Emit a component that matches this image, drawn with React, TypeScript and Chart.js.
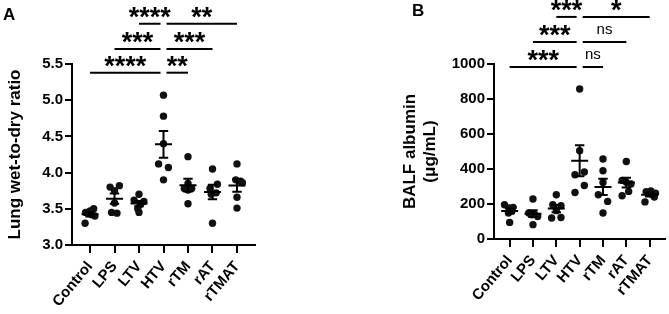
import React, { useEffect, useRef } from 'react';
import { Chart, registerables } from 'chart.js';

Chart.register(...registerables);

// ---------- data ----------
const categories = ['Control', 'LPS', 'LTV', 'HTV', 'rTM', 'rAT', 'rTMAT'];

// Panel A: lung wet-to-dry ratio, one array per group
const wetDryValues = [
  [3.30, 3.45, 3.47, 3.50, 3.42, 3.40],
  [3.80, 3.82, 3.75, 3.45, 3.44, 3.58],
  [3.70, 3.62, 3.60, 3.56, 3.50, 3.45],
  [5.07, 4.78, 4.40, 4.12, 4.07, 3.90],
  [4.22, 3.85, 3.78, 3.78, 3.76, 3.57],
  [4.05, 3.84, 3.78, 3.72, 3.70, 3.30],
  [4.12, 3.90, 3.88, 3.86, 3.66, 3.51],
];
// horizontal spread of each dot inside its group (fraction of a category)
const wetDryJitter = [
  [-0.2, -0.18, 0, 0.15, 0.05, 0.2],
  [-0.18, 0.2, 0, -0.12, 0.1, 0],
  [0, -0.2, 0.2, 0.05, -0.05, 0],
  [0, 0, 0, -0.2, 0.2, 0],
  [0, 0, -0.15, 0.15, 0, 0],
  [0, 0.2, -0.1, 0.15, -0.05, 0],
  [0, -0.05, 0.15, 0.22, 0, 0],
];
const wetDryTicks = [3.0, 3.5, 4.0, 4.5, 5.0, 5.5];

// Panel B: BALF albumin (µg/mL)
const albuminValues = [
  [196, 181, 177, 160, 149, 95],
  [229, 149, 143, 138, 129, 82],
  [253, 196, 190, 162, 123, 120],
  [857, 505, 383, 367, 306, 266],
  [457, 390, 323, 253, 215, 149],
  [443, 335, 325, 314, 272, 247],
  [275, 270, 262, 255, 240, 212],
];
const albuminJitter = [
  [-0.22, 0.15, 0, 0.1, -0.05, 0],
  [0, -0.18, 0.05, -0.05, 0.2, 0],
  [0, -0.15, 0.2, 0, 0.2, -0.2],
  [0, 0, 0.2, -0.2, 0.2, -0.2],
  [0, 0, 0, -0.2, 0.2, 0],
  [0, -0.18, 0, 0.2, 0.1, -0.18],
  [0.05, -0.15, 0.25, 0.1, 0.2, -0.2],
];
const albuminTicks = [0, 200, 400, 600, 800, 1000];

// significance brackets: [fromGroup, toGroup, level (axis units), label]
const wetDryBrackets: [number, number, number, string][] = [
  [0, 3, 5.38, '****'],
  [3, 4, 5.38, '**'],
  [1, 3, 5.707, '***'],
  [3, 5, 5.707, '***'],
  [2, 3, 6.056, '****'],
  [3, 6, 6.056, '**'],
];
const albuminBrackets: [number, number, number, string][] = [
  [0, 3, 983, '***'],
  [3, 4, 983, 'ns'],
  [1, 3, 1126, '***'],
  [3, 5, 1126, 'ns'],
  [2, 3, 1269, '***'],
  [3, 6, 1269, '*'],
];

// ---------- helpers ----------
const FONT = "'Liberation Sans', Arial, Helvetica, sans-serif";
const HUB = categories.indexOf('HTV');

function meanOf(a: number[]) {
  return a.reduce((s, v) => s + v, 0) / a.length;
}
function semOf(a: number[]) {
  const m = meanOf(a);
  const v = a.reduce((s, x) => s + (x - m) * (x - m), 0) / (a.length - 1);
  return Math.sqrt(v) / Math.sqrt(a.length);
}

interface PanelCfg {
  letter: string;
  letterX: number;
  letterY: number;
  values: number[][];
  jitter: number[][];
  ticks: number[];
  tickFmt: (v: number) => string;
  brackets: [number, number, number, string][];
  title: string | string[];
  padLeft: number;
  yWidth: number;
  padRight: number;
  xHeight: number;
  xRange: number;
}

function buildChart(canvas: HTMLCanvasElement, cfg: PanelCfg) {
  const points = cfg.values.flatMap((arr, i) =>
    arr.map((v, j) => ({ x: i + cfg.jitter[i][j], y: v }))
  );

  const errorBars = {
    id: 'errorBars',
    afterDatasetsDraw(chart: any) {
      const { ctx, scales } = chart;
      const xs = scales.x;
      const ys = scales.y;
      ctx.save();
      ctx.strokeStyle = '#000';
      ctx.lineWidth = 2;
      ctx.lineCap = 'butt';
      cfg.values.forEach((arr, i) => {
        const m = meanOf(arr);
        const s = semOf(arr);
        const cx = xs.getPixelForValue(i);
        const ym = ys.getPixelForValue(m);
        const yt = ys.getPixelForValue(m + s);
        const yb = ys.getPixelForValue(m - s);
        ctx.beginPath();
        ctx.moveTo(cx - 8.5, ym);
        ctx.lineTo(cx + 8.5, ym);
        ctx.moveTo(cx, yt);
        ctx.lineTo(cx, yb);
        ctx.moveTo(cx - 4.7, yt);
        ctx.lineTo(cx + 4.7, yt);
        ctx.moveTo(cx - 4.7, yb);
        ctx.lineTo(cx + 4.7, yb);
        ctx.stroke();
      });
      ctx.restore();
    },
  };

  const annotations = {
    id: 'annotations',
    afterDraw(chart: any) {
      const { ctx, scales } = chart;
      const xs = scales.x;
      const ys = scales.y;
      ctx.save();
      ctx.strokeStyle = '#000';
      ctx.fillStyle = '#000';
      ctx.lineWidth = 2;
      cfg.brackets.forEach(([from, to, level, label]) => {
        const x1 = xs.getPixelForValue(from) + (from === HUB ? 3 : 0);
        const x2 = xs.getPixelForValue(to) - (to === HUB ? 3 : 0);
        const y = ys.getPixelForValue(level);
        ctx.beginPath();
        ctx.moveTo(x1, y);
        ctx.lineTo(x2, y);
        ctx.stroke();
        const isStar = label.indexOf('*') >= 0;
        ctx.font = isStar ? `bold 27px ${FONT}` : `15px ${FONT}`;
        ctx.textAlign = 'center';
        ctx.textBaseline = 'alphabetic';
        const mt = ctx.measureText(label);
        const asc = mt.actualBoundingBoxAscent;
        const desc = mt.actualBoundingBoxDescent;
        const cy = y - 11.5;
        ctx.fillText(label, (x1 + x2) / 2, cy + (asc - desc) / 2);
      });
      ctx.font = `bold 17px ${FONT}`;
      ctx.textAlign = 'left';
      ctx.textBaseline = 'alphabetic';
      ctx.fillText(cfg.letter, cfg.letterX, cfg.letterY);
      ctx.restore();
    },
  };

  return new Chart(canvas, {
    type: 'scatter',
    data: {
      datasets: [
        {
          data: points,
          backgroundColor: '#111',
          borderWidth: 0,
          pointRadius: 3.7,
          pointHoverRadius: 3.7,
        },
      ],
    },
    options: {
      animation: false,
      responsive: false,
      maintainAspectRatio: false,
      events: [],
      layout: { padding: { top: 64, left: cfg.padLeft, right: cfg.padRight, bottom: 0 } },
      plugins: { legend: { display: false }, tooltip: { enabled: false } },
      scales: {
        x: {
          type: 'linear',
          min: -cfg.xRange,
          max: categories.length - 1 + cfg.xRange,
          afterBuildTicks: (s: any) => {
            s.ticks = categories.map((_, i) => ({ value: i }));
          },
          afterFit: (s: any) => {
            s.height = cfg.xHeight;
          },
          ticks: {
            autoSkip: false,
            minRotation: 50,
            maxRotation: 50,
            padding: 5,
            color: '#000',
            font: { family: FONT, size: 15, weight: 'bold' },
            callback: (v: any) => categories[Math.round(Number(v))],
          },
          grid: { drawOnChartArea: false, drawTicks: true, tickLength: 8, color: '#000', lineWidth: 2 },
          border: { display: true, color: '#000', width: 2 },
        },
        y: {
          type: 'linear',
          min: cfg.ticks[0],
          max: cfg.ticks[cfg.ticks.length - 1],
          afterBuildTicks: (s: any) => {
            s.ticks = cfg.ticks.map((v) => ({ value: v }));
          },
          afterFit: (s: any) => {
            s.width = cfg.yWidth;
          },
          ticks: {
            padding: 2,
            color: '#000',
            font: { family: FONT, size: 15, weight: 'bold' },
            callback: (v: any) => cfg.tickFmt(Number(v)),
          },
          grid: { drawOnChartArea: false, drawTicks: true, tickLength: 7, color: '#000', lineWidth: 2 },
          border: { display: true, color: '#000', width: 2 },
          title: {
            display: true,
            text: cfg.title,
            color: '#000',
            padding: { top: 5, bottom: 0 },
            font: { family: FONT, size: 17, weight: 'bold' },
          },
        },
      },
    },
    plugins: [errorBars, annotations],
  } as any);
}

const panelA: PanelCfg = {
  letter: 'A',
  letterX: 3,
  letterY: 20,
  values: wetDryValues,
  jitter: wetDryJitter,
  ticks: wetDryTicks,
  tickFmt: (v) => v.toFixed(1),
  brackets: wetDryBrackets,
  title: 'Lung wet-to-dry ratio',
  padLeft: 0,
  yWidth: 72,
  padRight: 80,
  xHeight: 69,
  xRange: 0.735,
};

const panelB: PanelCfg = {
  letter: 'B',
  letterX: 77,
  letterY: 16,
  values: albuminValues,
  jitter: albuminJitter,
  ticks: albuminTicks,
  tickFmt: (v) => String(Math.round(v)),
  brackets: albuminBrackets,
  title: ['BALF albumin', '(μg/mL)'],
  padLeft: 60,
  yWidth: 99,
  padRight: 1,
  xHeight: 75,
  xRange: 0.67,
};

function Panel({ cfg, left, width }: { cfg: PanelCfg; left: number; width: number }) {
  const ref = useRef<HTMLCanvasElement>(null);
  useEffect(() => {
    const chart = buildChart(ref.current as HTMLCanvasElement, cfg);
    return () => chart.destroy();
  }, [cfg]);
  return (
    <canvas
      ref={ref}
      width={width}
      height={314}
      style={{ position: 'absolute', left, top: 0, width, height: 314, display: 'block' }}
    />
  );
}

export default function App() {
  return (
    <div
      style={{
        position: 'fixed',
        left: 0,
        top: 0,
        width: 669,
        height: 314,
        background: '#fff',
        overflow: 'hidden',
      }}
    >
      <Panel cfg={panelA} left={0} width={335} />
      <Panel cfg={panelB} left={335} width={334} />
    </div>
  );
}
